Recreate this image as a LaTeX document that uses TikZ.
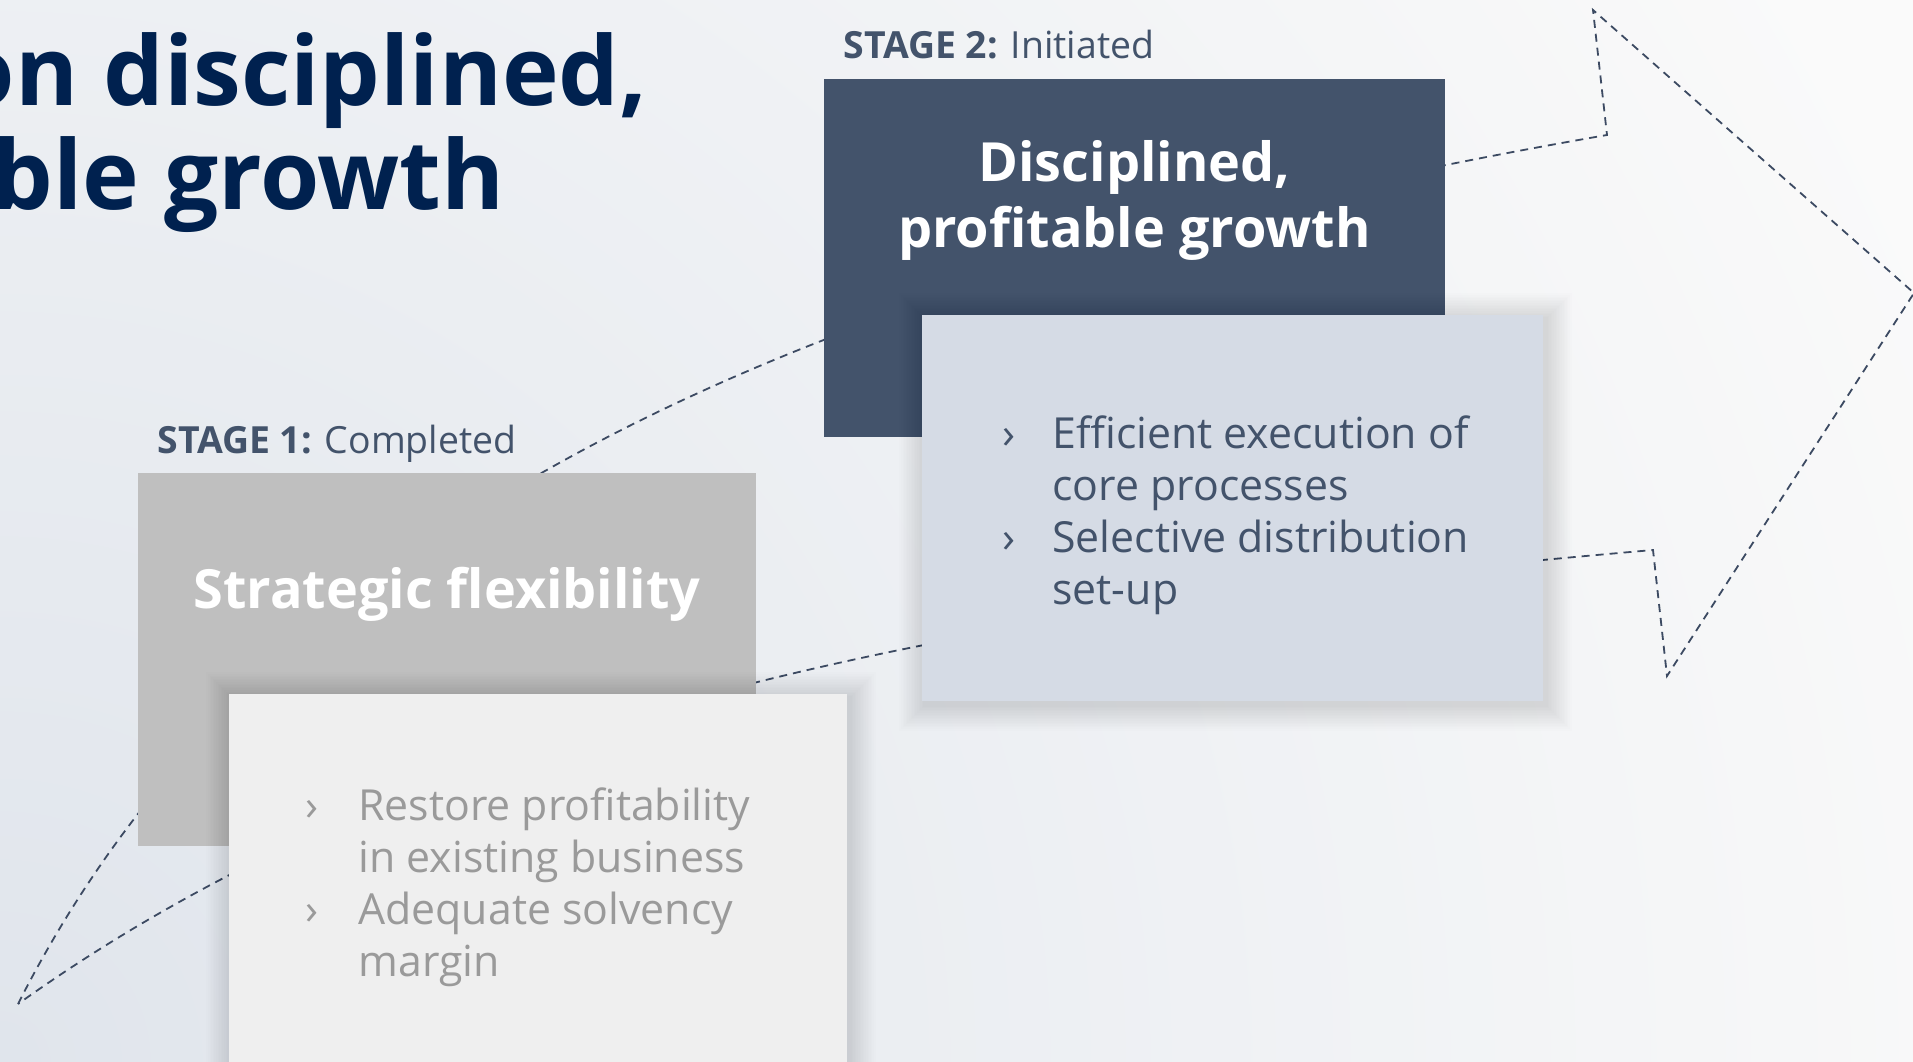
\documentclass[tikz,border=0pt]{standalone}
\usepackage{fontspec}
\setmainfont{Open Sans}

\definecolor{bgtop}{HTML}{FAFAFA}
\definecolor{bgcorner}{HTML}{E0E5EC}
\definecolor{navy}{HTML}{00214F}
\definecolor{slate}{HTML}{43536B}
\definecolor{dashcol}{HTML}{3C4A62}
\definecolor{stonegray}{HTML}{BFBFBF}
\definecolor{paleg}{HTML}{EFEFEF}
\definecolor{paleblue}{HTML}{D5DBE5}
\definecolor{mutedtext}{HTML}{9A9A9A}

\tikzset{
  panel/.style={rectangle, inner sep=0pt, outer sep=0pt, anchor=north west, draw=none},
  headline/.style={inner sep=0pt, text=navy, font=\fontsize{48}{52}\selectfont\bfseries},
  stagetext/.style={inner sep=0pt, anchor=base west, text=slate, font=\fontsize{18.7}{22}\selectfont},
  boxtitle/.style={inner sep=0pt, anchor=base, text=white, font=\fontsize{27}{33}\selectfont\bfseries},
  itemtext/.style={inner sep=0pt, anchor=base west, font=\fontsize{21.4}{25.75}\selectfont},
  arrowline/.style={draw=dashcol, line width=0.9pt, dash pattern=on 4pt off 3pt, line join=miter},
  shadowlayer/.style={fill=black, fill opacity=0.009, draw=none},
}

% soft drop shadow: stacked translucent rectangles around (x1,y1)-(x2,y2)
\newcommand{\softshadow}[4]{%
  \foreach \k in {1,...,16}{%
    \fill[shadowlayer] ({#1+3-\k*1.6},{#2+4-\k*1.6}) rectangle ({#3+3+\k*1.6},{#4+4+\k*1.6});
  }%
}

\begin{document}
\begin{tikzpicture}[x=0.5pt, y=-0.5pt]
  \useasboundingbox (0,0) rectangle (1913,1061);
  \clip (0,0) rectangle (1913,1061);

  % backdrop: pale, cooler towards the lower left corner
  \fill[bgtop] (0,0) rectangle (1913,1061);
  \shade[inner color=bgcorner, outer color=bgtop] (0,1061) circle[radius=2100];

  % headline
  \node[headline, anchor=base east] (head1) at (648,105) {on disciplined,};
  \node[headline, anchor=base east] (head2) at (505,209) {ble growth};

  % large dashed growth arrow behind the stages
  \draw[arrowline] (18,1004) .. controls (243,559) and (721,288) .. (1607,135)
    -- (1593,10) -- (1914,293) -- (1667,676) -- (1653,550)
    .. controls (1055,602) and (464,685) .. cycle;

  % stage 1
  \node[stagetext] (stage1) at (157,453) {\textbf{STAGE 1:} Completed};
  \node[panel, fill=stonegray, minimum width=309pt, minimum height=186.5pt] (box1) at (138,473) {};
  \node[boxtitle] (title1) at (447,608) {Strategic flexibility};
  \softshadow{229}{694}{847}{1074}
  \node[panel, fill=paleg, minimum width=309pt, minimum height=190pt] (detail1) at (229,694) {};
  \begin{scope}[every node/.append style={text=mutedtext}]
    \node[itemtext] (b1a) at (305,820) {›};
    \node[itemtext] (i1a) at (358,820) {Restore profitability};
    \node[itemtext] (i1b) at (358,872) {in existing business};
    \node[itemtext] (b1b) at (305,924) {›};
    \node[itemtext] (i1c) at (358,924) {Adequate solvency};
    \node[itemtext] (i1d) at (358,976) {margin};
  \end{scope}

  % stage 2
  \node[stagetext] (stage2) at (843,58) {\textbf{STAGE 2:} Initiated};
  \node[panel, fill=slate, minimum width=310.5pt, minimum height=179pt] (box2) at (824,79) {};
  \node[boxtitle] (title2a) at (1134.5,181) {Disciplined,};
  \node[boxtitle] (title2b) at (1134.5,247) {profitable growth};
  \softshadow{922}{315}{1543}{701}
  \node[panel, fill=paleblue, minimum width=310.5pt, minimum height=193pt] (detail2) at (922,315) {};
  \begin{scope}[every node/.append style={text=slate}]
    \node[itemtext] (b2a) at (1002,448) {›};
    \node[itemtext] (i2a) at (1052,448) {Efficient execution of};
    \node[itemtext] (i2b) at (1052,500) {core processes};
    \node[itemtext] (b2b) at (1002,552) {›};
    \node[itemtext] (i2c) at (1052,552) {Selective distribution};
    \node[itemtext] (i2d) at (1052,604) {set-up};
  \end{scope}
\end{tikzpicture}
\end{document}
